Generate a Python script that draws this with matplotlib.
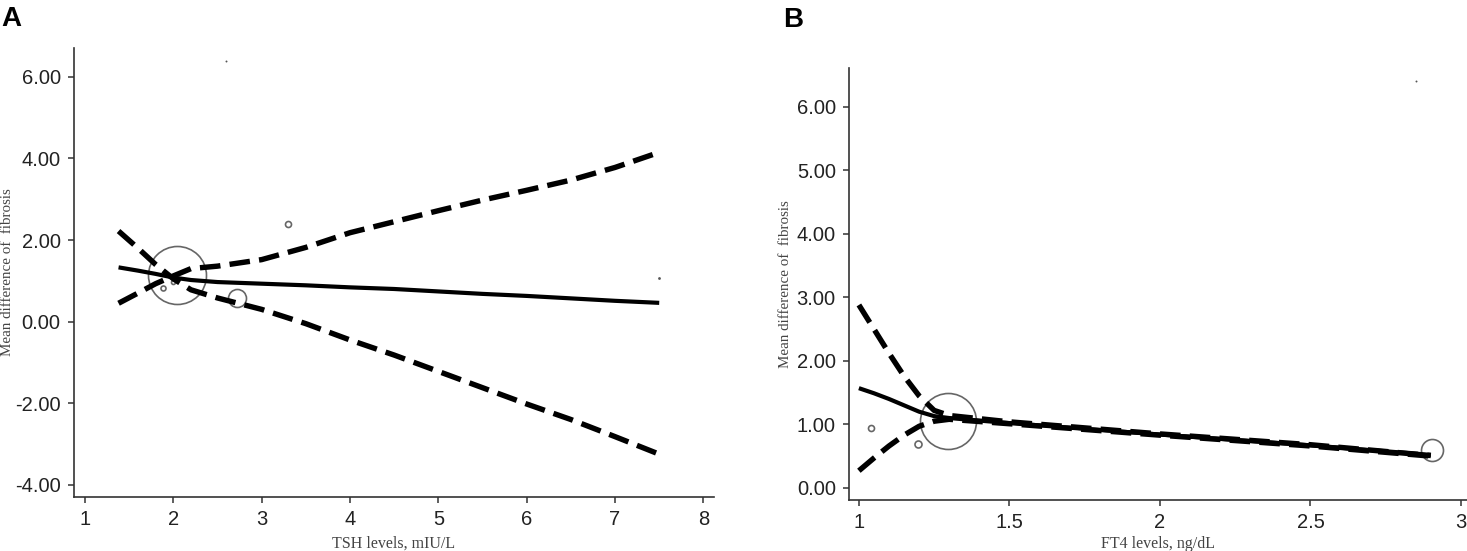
import matplotlib
matplotlib.use('Agg')
import matplotlib.pyplot as plt
import numpy as np

# panel A: TSH
tsh_x = [1.38, 1.6, 1.8, 2.0, 2.2, 2.5, 3.0, 3.5, 4.0, 4.5, 5.0, 5.5, 6.0, 6.5, 7.0, 7.5]
tsh_fit = [1.33, 1.25, 1.17, 1.08, 1.02, 0.97, 0.93, 0.89, 0.84, 0.80, 0.74, 0.68, 0.63, 0.57, 0.51, 0.46]
tsh_hi = [0.45, 0.70, 0.93, 1.12, 1.30, 1.36, 1.52, 1.82, 2.18, 2.45, 2.72, 2.98, 3.22, 3.47, 3.78, 4.15]
tsh_lo = [2.22, 1.80, 1.40, 1.05, 0.78, 0.58, 0.30, -0.05, -0.45, -0.82, -1.22, -1.62, -2.02, -2.40, -2.82, -3.25]
tsh_pts_x = [2.04, 2.72, 1.88, 2.00, 3.30, 2.60, 7.50]
tsh_pts_y = [1.15, 0.58, 0.83, 0.96, 2.40, 6.40, 1.07]
tsh_pts_r = [29, 9, 2.5, 2.0, 3.0, 0.7, 1.0]

# panel B: FT4
ft4_x = [1.0, 1.05, 1.1, 1.15, 1.2, 1.25, 1.3, 1.5, 2.0, 2.5, 2.9]
ft4_fit = [1.57, 1.49, 1.40, 1.30, 1.20, 1.13, 1.10, 1.02, 0.84, 0.67, 0.52]
ft4_hi = [2.88, 2.50, 2.12, 1.76, 1.45, 1.22, 1.14, 1.04, 0.85, 0.68, 0.51]
ft4_lo = [0.27, 0.47, 0.66, 0.83, 0.97, 1.05, 1.08, 1.01, 0.83, 0.66, 0.50]
ft4_pts_x = [1.295, 2.903, 1.197, 1.04, 2.85]
ft4_pts_y = [1.06, 0.60, 0.69, 0.94, 6.40]
ft4_pts_r = [28, 11, 3.5, 3.0, 0.7]

tick_font = ['Liberation Sans Narrow', 'Liberation Sans', 'DejaVu Sans']
label_font = ['Liberation Serif', 'DejaVu Serif']

fig = plt.figure(figsize=(14.67, 5.51), dpi=100)
axA = fig.add_axes([0.0504, 0.098, 0.4363, 0.815])
axB = fig.add_axes([0.5787, 0.0926, 0.4213, 0.784])


def draw(ax, x, fit, hi, lo, px, py, pr):
    ax.plot(x, fit, color='black', lw=3, solid_capstyle='butt', zorder=3)
    ax.plot(x, hi, color='black', lw=3.9, dashes=(3.8, 1.7), zorder=3)
    ax.plot(x, lo, color='black', lw=3.9, dashes=(3.8, 1.7), zorder=3)
    for xx, yy, rr in zip(px, py, pr):
        if rr < 1.5:
            ax.plot(xx, yy, 'o', ms=rr * 2, color='#555555', mew=0)
        else:
            ax.plot(xx, yy, 'o', ms=rr * 2 * 0.72, mfc='none', mec='#666666', mew=1.2)
    for s in ['top', 'right']:
        ax.spines[s].set_visible(False)
    for s in ['left', 'bottom']:
        ax.spines[s].set_color('#333333')
        ax.spines[s].set_linewidth(1.2)
    ax.tick_params(direction='out', length=4.5, width=1.1, color='#333333', pad=5,
                   labelsize=14.5, labelcolor='#222222')
    ax.set_ylabel('Mean difference of  fibrosis', family=label_font,
                  fontsize=10.8, color='#444444')


draw(axA, tsh_x, tsh_fit, tsh_hi, tsh_lo, tsh_pts_x, tsh_pts_y, tsh_pts_r)
axA.set_xlim(0.875, 8.12)
axA.set_ylim(-4.3, 6.71)
axA.set_xticks(range(1, 9))
axA.set_yticks([-4, -2, 0, 2, 4, 6])
axA.set_yticklabels(['-4.00', '-2.00', '0.00', '2.00', '4.00', '6.00'], family=tick_font)
axA.set_xticklabels([str(i) for i in range(1, 9)], family=tick_font)
axA.set_xlabel('TSH levels, mIU/L', family=label_font, fontsize=11.5, color='#444444')
axA.xaxis.set_label_coords(0.5, -0.085)
axA.yaxis.set_label_coords(-0.093, 0.5)

draw(axB, ft4_x, ft4_fit, ft4_hi, ft4_lo, ft4_pts_x, ft4_pts_y, ft4_pts_r)
axB.set_xlim(0.967, 3.02)
axB.set_ylim(-0.19, 6.61)
axB.set_xticks([1, 1.5, 2, 2.5, 3])
axB.set_xticklabels(['1', '1.5', '2', '2.5', '3'], family=tick_font)
axB.set_yticks(range(0, 7))
axB.set_yticklabels(['%.2f' % v for v in range(0, 7)], family=tick_font)
axB.set_xlabel('FT4 levels, ng/dL', family=label_font, fontsize=11.5, color='#444444')
axB.xaxis.set_label_coords(0.5, -0.083)
axB.yaxis.set_label_coords(-0.092, 0.5)

fig.text(0.001, 0.99, 'A', fontsize=20, fontweight='bold', va='top',
         family=['Liberation Sans', 'DejaVu Sans'])
fig.text(0.534, 0.987, 'B', fontsize=20, fontweight='bold', va='top',
         family=['Liberation Sans', 'DejaVu Sans'])

fig.savefig('out.png', dpi=100)
